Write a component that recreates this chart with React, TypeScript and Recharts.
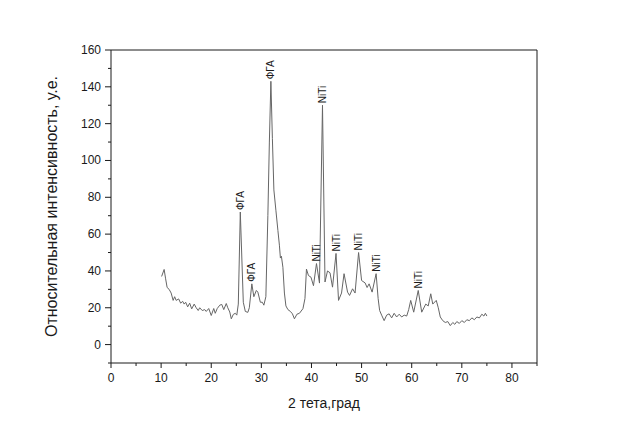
import { ComposedChart, Line, Scatter, XAxis, YAxis, ReferenceLine } from 'recharts';

// 2θ positions (deg) and intensities (a.u.)
const twoTheta = [
  10.1, 10.6, 10.9, 11.2, 11.6, 12.0, 12.4, 12.7, 13.0, 13.5, 13.9, 14.3, 14.6, 14.9, 15.3, 15.7,
  16.1, 16.6, 17.0, 17.4, 17.7, 18.2, 18.7, 19.0, 19.5, 20.0, 20.5, 20.8, 21.2, 21.7, 22.1, 22.5,
  23.0, 23.3, 23.7, 24.0, 24.4, 24.8, 25.1, 25.4, 25.8, 26.4, 26.8, 27.3, 27.6, 28.1, 28.5, 29.0,
  29.3, 29.8, 30.2, 30.5, 30.9, 31.3, 31.6, 31.9, 32.2, 32.5, 32.9, 33.3, 33.6, 33.8, 34.0, 34.3,
  34.6, 34.9, 35.3, 35.8, 36.2, 36.6, 37.1, 37.6, 38.3, 38.7, 39.0, 39.4, 39.9, 40.4, 41.0, 41.6,
  42.2, 42.7, 43.2, 43.7, 44.2, 44.9, 45.4, 46.0, 46.5, 47.2, 47.6, 48.2, 48.7, 49.4, 50.0, 50.7,
  51.1, 51.5, 52.1, 52.9, 53.3, 53.6, 54.0, 54.5, 55.0, 55.5, 56.0, 56.5, 57.0, 57.5, 58.0, 58.5,
  59.0, 59.4, 59.8, 60.4, 61.3, 62.0, 62.8, 63.3, 63.8, 64.2, 64.9, 65.3, 65.7, 66.2, 66.7, 67.2,
  67.7, 68.2, 68.6, 69.0, 69.5, 70.0, 70.5, 71.0, 71.5, 72.0, 72.5, 73.0, 73.5, 74.0, 74.4, 74.7,
  75.0,
];
const intensity = [
  37, 40.8, 35.7, 31, 30, 28, 24, 26, 24, 24.8, 22.5, 23.5, 22, 23, 20.5, 22.5,
  19.4, 22, 20, 18.5, 20, 18.5, 19, 18, 19.6, 15.8, 19.6, 17, 19.6, 21.4, 21.8, 19,
  22.3, 20, 17.7, 14, 16.4, 17, 16, 22, 72, 23, 18, 17.5, 20, 33, 26, 29.4,
  28.5, 23, 23, 21.4, 26, 70, 110, 143, 112, 84, 73, 62, 54, 47, 48, 42,
  28, 21, 19, 18, 16.7, 14, 16.5, 17, 19.5, 25, 41, 37.5, 36.6, 32, 44, 33.4,
  130, 34, 40, 39, 31.2, 49.5, 24, 28, 38.5, 28.5, 26.7, 30.3, 28, 50, 34.8, 33.5,
  31, 33, 28.5, 38.5, 25, 18.5, 16, 13, 16, 16.7, 14.5, 17, 15, 16.5, 15, 16,
  15.5, 19, 24, 17.6, 29.4, 17.6, 22, 21, 27.6, 22, 24, 20, 15, 13, 12, 12.5,
  10.3, 12, 11, 12.5, 11.5, 13, 12, 13.5, 13, 14.5, 13.5, 15, 14.5, 16.5, 15.5, 17,
  15.5,
];

// phase labels over the peaks
const peakX = [25.8, 28.1, 31.9, 41.0, 42.2, 44.9, 49.4, 52.9, 61.3];
const peakY = [72, 33, 143, 44, 130, 49.5, 50, 38.5, 29.4];
const peakText = ['ФГА', 'ФГА', 'ФГА', 'NiTi', 'NiTi', 'NiTi', 'NiTi', 'NiTi', 'NiTi'];

const xTicks = [0, 5, 10, 15, 20, 25, 30, 35, 40, 45, 50, 55, 60, 65, 70, 75, 80, 85];
const yTicks = [-10, 0, 10, 20, 30, 40, 50, 60, 70, 80, 90, 100, 110, 120, 130, 140, 150, 160];

const curve = twoTheta.map((x, i) => ({ x, y: intensity[i] }));
const labels = peakX.map((x, i) => ({ x, y: peakY[i], text: peakText[i] }));

const font = 'Arial, "Liberation Sans", sans-serif';
const ink = '#1a1a1a';

function XTick({ x, y, payload }: any) {
  const major = payload.value % 10 === 0;
  return (
    <g>
      <line x1={x} y1={y} x2={x} y2={y + (major ? 5 : 3)} stroke={ink} />
      {major && (
        <text x={x} y={y + 19} textAnchor="middle" fontSize={12} fontFamily={font} fill={ink}>
          {payload.value}
        </text>
      )}
    </g>
  );
}

function YTick({ x, y, payload }: any) {
  const major = payload.value % 20 === 0;
  return (
    <g>
      <line x1={x} y1={y} x2={x - (major ? 6 : 3)} y2={y} stroke={ink} />
      {major && (
        <text x={x - 10} y={y + 4} textAnchor="end" fontSize={12} fontFamily={font} fill={ink}>
          {payload.value}
        </text>
      )}
    </g>
  );
}

function PeakLabel({ cx, cy, payload }: any) {
  const ty = cy - 2;
  return (
    <text
      x={cx}
      y={ty}
      transform={`rotate(-90 ${cx} ${ty})`}
      textAnchor="start"
      dominantBaseline="central"
      fontSize={10}
      fontFamily={font}
      fill={ink}
    >
      {payload.text}
    </text>
  );
}

export default function App() {
  return (
    <div style={{ position: 'absolute', left: 0, top: 0, width: 623, height: 435, background: '#fff' }}>
      <ComposedChart
        width={623}
        height={435}
        data={curve}
        margin={{ top: 50, right: 86, bottom: 42, left: 71 }}
      >
        <XAxis
          dataKey="x"
          type="number"
          domain={[0, 85]}
          ticks={xTicks}
          interval={0}
          height={30}
          tickSize={0}
          tickMargin={0}
          tick={<XTick />}
          axisLine={{ stroke: ink }}
          label={{ value: '2 тета,град', position: 'insideBottom', offset: -15, fontSize: 14, fontFamily: font, fill: ink }}
        />
        <YAxis
          dataKey="y"
          type="number"
          domain={[-10, 160]}
          ticks={yTicks}
          interval={0}
          width={40}
          tickSize={0}
          tickMargin={0}
          tick={<YTick />}
          axisLine={{ stroke: ink }}
          label={{
            value: 'Относительная интенсивность, у.е.',
            angle: -90,
            position: 'center',
            dx: -40,
            fontSize: 16,
            fontFamily: font,
            fill: ink,
          }}
        />
        <ReferenceLine y={160} stroke={ink} />
        <ReferenceLine x={85} stroke={ink} />
        <Line
          dataKey="y"
          type="linear"
          stroke="#666"
          strokeWidth={1}
          dot={false}
          isAnimationActive={false}
        />
        <Scatter data={labels} dataKey="y" shape={<PeakLabel />} isAnimationActive={false} />
      </ComposedChart>
    </div>
  );
}
